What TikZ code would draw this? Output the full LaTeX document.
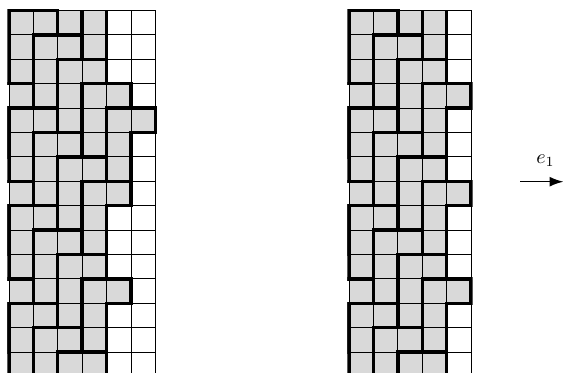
\documentclass[tikz,border=0pt]{standalone}
\usetikzlibrary{arrows.meta}
\begin{document}
\begin{tikzpicture}[x=0.5pt,y=-0.5pt,
  cellfill/.style={fill=black!15},
  gridline/.style={line width=0.5pt, black},
  tileline/.style={line width=1.7pt, line join=miter, black},
  arrowline/.style={line width=0.8pt, -{Latex[length=7pt,width=5pt]}},
]
\useasboundingbox (0,0) rectangle (564,373);
\clip (0,0) rectangle (564,373);

% ---------- left grid (6 columns) ----------
\begin{scope}[shift={(9,10.5)}, x=12.2pt, y=-12.2pt]
  \begin{scope}
    \clip (0,0) rectangle (6,15);
    \foreach \tx/\ty in {2/-2,3/-1,0/0,1/1,2/2,3/3,4/4,-1/3,0/4,1/5,2/6,3/7,-1/7,0/8,1/9,2/10,3/11,-1/11,0/12,1/13,2/14,3/15}
      \fill[cellfill] (\tx,\ty) -- ++(2,0) -- ++(0,1) -- ++(-1,0) -- ++(0,2) -- ++(-1,0) -- cycle;
  \end{scope}
  \foreach \i in {0,...,6} \draw[gridline] (\i,0) -- (\i,15);
  \foreach \j in {0,...,15} \draw[gridline] (0,\j) -- (6,\j);
  \begin{scope}
    \clip (-0.0697,-0.0697) rectangle (6.0697,15.0697);
    \foreach \tx/\ty in {0/0,1/1,2/2,3/3,4/4,-1/3,0/4,1/5,2/6,3/7,-1/7,0/8,1/9,2/10,3/11,-1/11,0/12,1/13,2/14,3/15}
      \draw[tileline] (\tx,\ty) -- ++(2,0) -- ++(0,1) -- ++(-1,0) -- ++(0,2) -- ++(-1,0) -- cycle;
    \draw[tileline] (2,0) -- (2,1) -- (3,1) -- (3,0);
    \draw[tileline] (4,0) -- (4,2) -- (3,2) -- (3,0);
  \end{scope}
\end{scope}

% ---------- right grid (5 columns) ----------
\begin{scope}[shift={(349,10.5)}, x=12.2pt, y=-12.2pt]
  \begin{scope}
    \clip (0,0) rectangle (5,15);
    \foreach \tx/\ty in {2/-2,3/-1,0/0,1/1,2/2,3/3,-1/3,0/4,1/5,2/6,3/7,-1/7,0/8,1/9,2/10,3/11,-1/11,0/12,1/13,2/14,3/15}
      \fill[cellfill] (\tx,\ty) -- ++(2,0) -- ++(0,1) -- ++(-1,0) -- ++(0,2) -- ++(-1,0) -- cycle;
  \end{scope}
  \foreach \i in {0,...,5} \draw[gridline] (\i,0) -- (\i,15);
  \foreach \j in {0,...,15} \draw[gridline] (0,\j) -- (5,\j);
  \begin{scope}
    \clip (-0.0697,-0.0697) rectangle (5.0697,15.0697);
    \foreach \tx/\ty in {0/0,1/1,2/2,3/3,-1/3,0/4,1/5,2/6,3/7,-1/7,0/8,1/9,2/10,3/11,-1/11,0/12,1/13,2/14,3/15}
      \draw[tileline] (\tx,\ty) -- ++(2,0) -- ++(0,1) -- ++(-1,0) -- ++(0,2) -- ++(-1,0) -- cycle;
    \draw[tileline] (2,0) -- (2,1) -- (3,1) -- (3,0);
    \draw[tileline] (4,0) -- (4,2) -- (3,2) -- (3,0);
  \end{scope}
\end{scope}

% ---------- arrow e_1 ----------
\coordinate (arrowstart) at (520,181.7);
\coordinate (arrowend) at (563.5,181.7);
\draw[arrowline] (arrowstart) -- (arrowend);
\node[inner sep=0pt] (elabel) at (545.5,160.5) {$e_1$};
\end{tikzpicture}
\end{document}
